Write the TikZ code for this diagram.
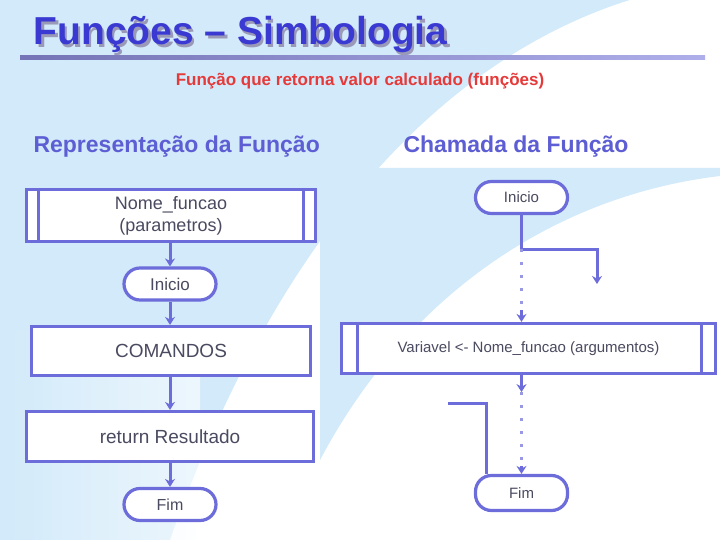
\documentclass[tikz,border=0pt]{standalone}
\usepackage{fontspec}
\setmainfont{Liberation Sans}
\usetikzlibrary{arrows.meta}
\definecolor{bgblue}{HTML}{D2EAFA}
\definecolor{ttl}{HTML}{3A3AD2}
\definecolor{hd}{HTML}{5E5ED4}
\definecolor{stk}{HTML}{6C6CDA}
\definecolor{txt}{HTML}{4A4A60}
\definecolor{redt}{HTML}{E63A3A}
\definecolor{shd}{HTML}{9A9AB8}
\begin{document}
\begin{tikzpicture}[x=1pt,y=-1pt,
  proc/.style={draw=stk, line width=3.2pt, fill=white, inner sep=0pt, text=txt},
  term/.style={draw=stk, line width=3.2pt, fill=white, rounded corners=16pt,
    minimum width=92pt, minimum height=32pt, inner sep=0pt, text=txt},
  ln/.style={draw=stk, line width=3pt},
  arr/.style={ln, -{Stealth[length=8pt,width=10pt]}},
  dots/.style={draw=stk!70, line width=2.4pt, dash pattern=on 3pt off 10pt},
  hdg/.style={anchor=base west, text=hd, font=\fontsize{23}{25}\selectfont\bfseries}
]
\useasboundingbox (0,0) rectangle (720,540);
% background
\fill[bgblue] (0,0) rectangle (720,540);
\fill[white] (630,0) .. controls (470,50) and (290,200) .. (170,540) -- (720,540) -- (720,0) -- cycle;
\shade[left color=bgblue, right color=white, opacity=0.6] (0,330) rectangle (200,540);
\fill[white] (320,168) rectangle (720,540);
\fill[bgblue] (320,168) -- (720,168) -- (720,176) .. controls (560,195) and (410,290) .. (320,460) -- cycle;
% title with shadow in one node
\node[anchor=base west, text=ttl, font=\fontsize{39}{40}\selectfont\bfseries] (title) at (30,45)
  {\makebox[0pt][l]{\hspace{2.5pt}\raisebox{-2.5pt}{\textcolor{shd}{Funções – Simbologia}}}Funções – Simbologia};
\shade[left color=stk!60!gray, right color=stk!55] (20,55.5) rectangle (705,59.5);
\node[anchor=base, text=redt, font=\fontsize{17}{18}\selectfont\bfseries] (sub) at (360,86) {Função que retorna valor calculado (funções)};
% headings
\node[hdg] (h1) at (30,153) {Representação da Função};
\node[hdg] (h2) at (400,153) {Chamada da Função};
% left flow
\node[proc, minimum width=289pt, minimum height=52pt, align=center,
  font=\fontsize{18}{22}\selectfont] (b1) at (171,215.5) {Nome\_funcao\\(parametros)};
\draw[ln] ([xshift=14pt]b1.north west) -- ([xshift=14pt]b1.south west);
\draw[ln] ([xshift=-14pt]b1.north east) -- ([xshift=-14pt]b1.south east);
\node[term, font=\fontsize{17}{18}\selectfont] (i1) at (170,284) {Inicio};
\node[proc, minimum width=279pt, minimum height=49pt, font=\fontsize{19}{20}\selectfont] (cmd) at (171,351) {COMANDOS};
\node[proc, minimum width=287pt, minimum height=50pt, font=\fontsize{19}{20}\selectfont] (ret) at (170,436.5) {return Resultado};
\node[term, font=\fontsize{16}{18}\selectfont] (f1) at (170,504.5) {Fim};
\draw[arr] (b1.south -| i1) -- (i1.north);
\draw[arr] (i1.south) -- (cmd.north -| i1);
\draw[arr] (cmd.south -| i1) -- (ret.north -| i1);
\draw[arr] (ret.south) -- (f1.north);
% right flow
\node[term, font=\fontsize{15}{16}\selectfont] (i2) at (521.5,197.5) {Inicio};
\node[proc, minimum width=374pt, minimum height=50pt, font=\fontsize{15}{16}\selectfont] (b2) at (528.5,348.5) {Variavel <- Nome\_funcao (argumentos)};
\draw[ln] ([xshift=18pt]b2.north west) -- ([xshift=18pt]b2.south west);
\draw[ln] ([xshift=-16pt]b2.north east) -- ([xshift=-16pt]b2.south east);
\node[term, minimum height=35pt, font=\fontsize{15}{16}\selectfont] (f2) at (521.5,493) {Fim};
\coordinate (rturn) at (597,249);
\coordinate (rend) at (597,284);
\coordinate (elb) at (521.5,249);
\draw[arr] (i2.south) -- (elb) -- (rturn) -- (rend);
\draw[dots] (elb) -- ([yshift=12pt]b2.north -| elb);
\draw[arr] ([yshift=12pt]b2.north -| elb) -- (b2.north -| elb);
\draw[arr] (b2.south -| elb) -- ++(0,17) coordinate (d1);
\draw[dots] (d1) -- ([yshift=8pt]f2.north);
\draw[arr] ([yshift=8pt]f2.north) -- (f2.north);
\coordinate (lstart) at (448,403);
\draw[ln] (lstart) -| ([xshift=-35pt]f2.north);
\end{tikzpicture}
\end{document}
